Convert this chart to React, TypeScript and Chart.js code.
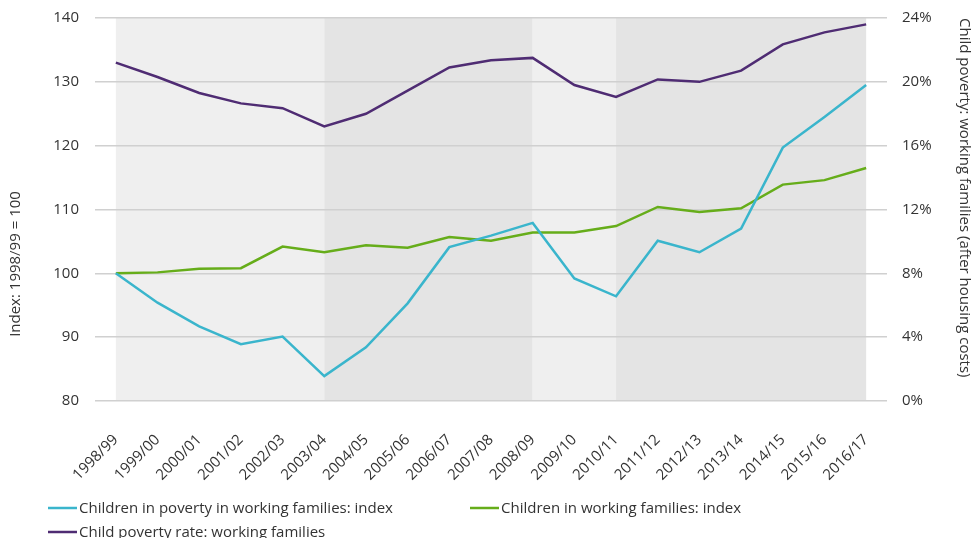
import React, { useEffect, useRef } from "react";
import { Chart, Plugin, registerables } from "chart.js";

Chart.register(...registerables);

const years = [
  "1998/99", "1999/00", "2000/01", "2001/02", "2002/03", "2003/04", "2004/05",
  "2005/06", "2006/07", "2007/08", "2008/09", "2009/10", "2010/11", "2011/12",
  "2012/13", "2013/14", "2014/15", "2015/16", "2016/17",
];

const povertyIndex = [
  100, 95.4, 91.7, 88.9, 90.1, 83.9, 88.4, 95.3, 104.1, 105.9,
  107.9, 99.2, 96.4, 105.1, 103.3, 107.0, 119.7, 124.5, 129.5,
];

const workingIndex = [
  100, 100.15, 100.7, 100.8, 104.2, 103.3, 104.4, 104.0, 105.7, 105.1,
  106.4, 106.4, 107.4, 110.4, 109.6, 110.2, 113.9, 114.6, 116.5,
];

const povertyRate = [
  21.2, 20.3, 19.3, 18.65, 18.35, 17.2, 18.0, 19.45, 20.9, 21.35,
  21.5, 19.8, 19.05, 20.15, 20.0, 20.7, 22.35, 23.1, 23.6,
];

// shaded bands between category indices
const bands: [number, number, string][] = [
  [0, 5, "#efefef"],
  [5, 10, "#e4e4e4"],
  [10, 12, "#efefef"],
  [12, 18, "#e4e4e4"],
];

const leftTitle = "Index: 1998/99 = 100";
const rightTitle = "Child poverty: working families (after housing costs)";

const FONT = "'Open Sans', Lato, sans-serif";
const TEXT = "#333333";

const bandPlugin: Plugin<"line"> = {
  id: "bands",
  beforeDraw(chart) {
    const { ctx, chartArea, scales } = chart;
    const x = scales.x;
    ctx.save();
    bands.forEach(([a, b, color]) => {
      const x0 = x.getPixelForValue(a);
      const x1 = x.getPixelForValue(b);
      ctx.fillStyle = color;
      ctx.fillRect(x0, chartArea.top, x1 - x0, chartArea.bottom - chartArea.top);
    });
    ctx.restore();
  },
};

// axis titles + legend, placed like the original
const textPlugin: Plugin<"line"> = {
  id: "texts",
  afterDraw(chart) {
    const { ctx, chartArea } = chart;
    ctx.save();
    ctx.font = `15px ${FONT}`;
    ctx.fillStyle = TEXT;
    ctx.textBaseline = "middle";

    ctx.save();
    ctx.translate(16, 264);
    ctx.rotate(-Math.PI / 2);
    ctx.textAlign = "center";
    ctx.fillText(leftTitle, 0, 0);
    ctx.restore();

    ctx.save();
    ctx.translate(964, chartArea.top);
    ctx.rotate(Math.PI / 2);
    ctx.textAlign = "left";
    ctx.fillText(rightTitle, 0, 0);
    ctx.restore();

    const slots = [
      { ds: 0, x: 48, y: 508 },
      { ds: 1, x: 470, y: 508 },
      { ds: 2, x: 48, y: 532 },
    ];
    ctx.textAlign = "left";
    slots.forEach(({ ds, x, y }) => {
      const d = chart.data.datasets[ds];
      ctx.strokeStyle = d.borderColor as string;
      ctx.lineWidth = 2.5;
      ctx.beginPath();
      ctx.moveTo(x, y);
      ctx.lineTo(x + 29, y);
      ctx.stroke();
      ctx.fillText(d.label as string, x + 31, y + 1);
    });
    ctx.restore();
  },
};

const noPad = (s: any) => {
  s.paddingTop = 0;
  s.paddingBottom = 0;
};

const PovertyChart: React.FC = () => {
  const canvasRef = useRef<HTMLCanvasElement | null>(null);

  useEffect(() => {
    if (!canvasRef.current) return;
    const chart = new Chart(canvasRef.current, {
      type: "line",
      data: {
        labels: years,
        datasets: [
          {
            label: "Children in poverty in working families: index",
            data: povertyIndex,
            borderColor: "#3ab5cc",
            yAxisID: "y",
          },
          {
            label: "Children in working families: index",
            data: workingIndex,
            borderColor: "#66ad1a",
            yAxisID: "y",
          },
          {
            label: "Child poverty rate: working families",
            data: povertyRate,
            borderColor: "#4f2c73",
            yAxisID: "y1",
          },
        ],
      },
      options: {
        animation: false,
        responsive: false,
        layout: { padding: { top: 18, left: 0, right: 0, bottom: 0 } },
        elements: {
          line: { borderWidth: 2.5, tension: 0 },
          point: { radius: 0 },
        },
        plugins: {
          legend: { display: false },
          tooltip: { enabled: false },
        },
        scales: {
          x: {
            offset: true,
            grid: { display: false },
            border: { display: false },
            ticks: {
              minRotation: 45,
              maxRotation: 45,
              padding: 22,
              color: TEXT,
              font: { family: FONT, size: 15 },
            },
            afterFit: (s) => {
              s.height = 137;
              noPad(s);
            },
          },
          y: {
            position: "left",
            min: 80,
            max: 140,
            ticks: {
              stepSize: 10,
              padding: 16,
              color: TEXT,
              font: { family: FONT, size: 15 },
            },
            grid: { color: "#d0d0d0", lineWidth: 1.5, drawTicks: false },
            border: { display: false },
            afterFit: (s) => {
              s.width = 95;
              noPad(s);
            },
          },
          y1: {
            position: "right",
            min: 0,
            max: 24,
            ticks: {
              stepSize: 4,
              padding: 15,
              color: TEXT,
              font: { family: FONT, size: 15 },
              callback: (v) => `${v}%`,
            },
            grid: { display: false, drawTicks: false },
            border: { display: false },
            afterFit: (s) => {
              s.width = 85;
              noPad(s);
            },
          },
        },
      },
      plugins: [bandPlugin, textPlugin],
    });
    return () => {
      chart.destroy();
    };
  }, []);

  return (
    <div style={{ position: "fixed", left: 0, top: 0, width: 972, height: 538, background: "#fff" }}>
      <canvas ref={canvasRef} width={972} height={538} style={{ width: 972, height: 538 }}></canvas>
    </div>
  );
};

export default function App() {
  return <PovertyChart />;
}
